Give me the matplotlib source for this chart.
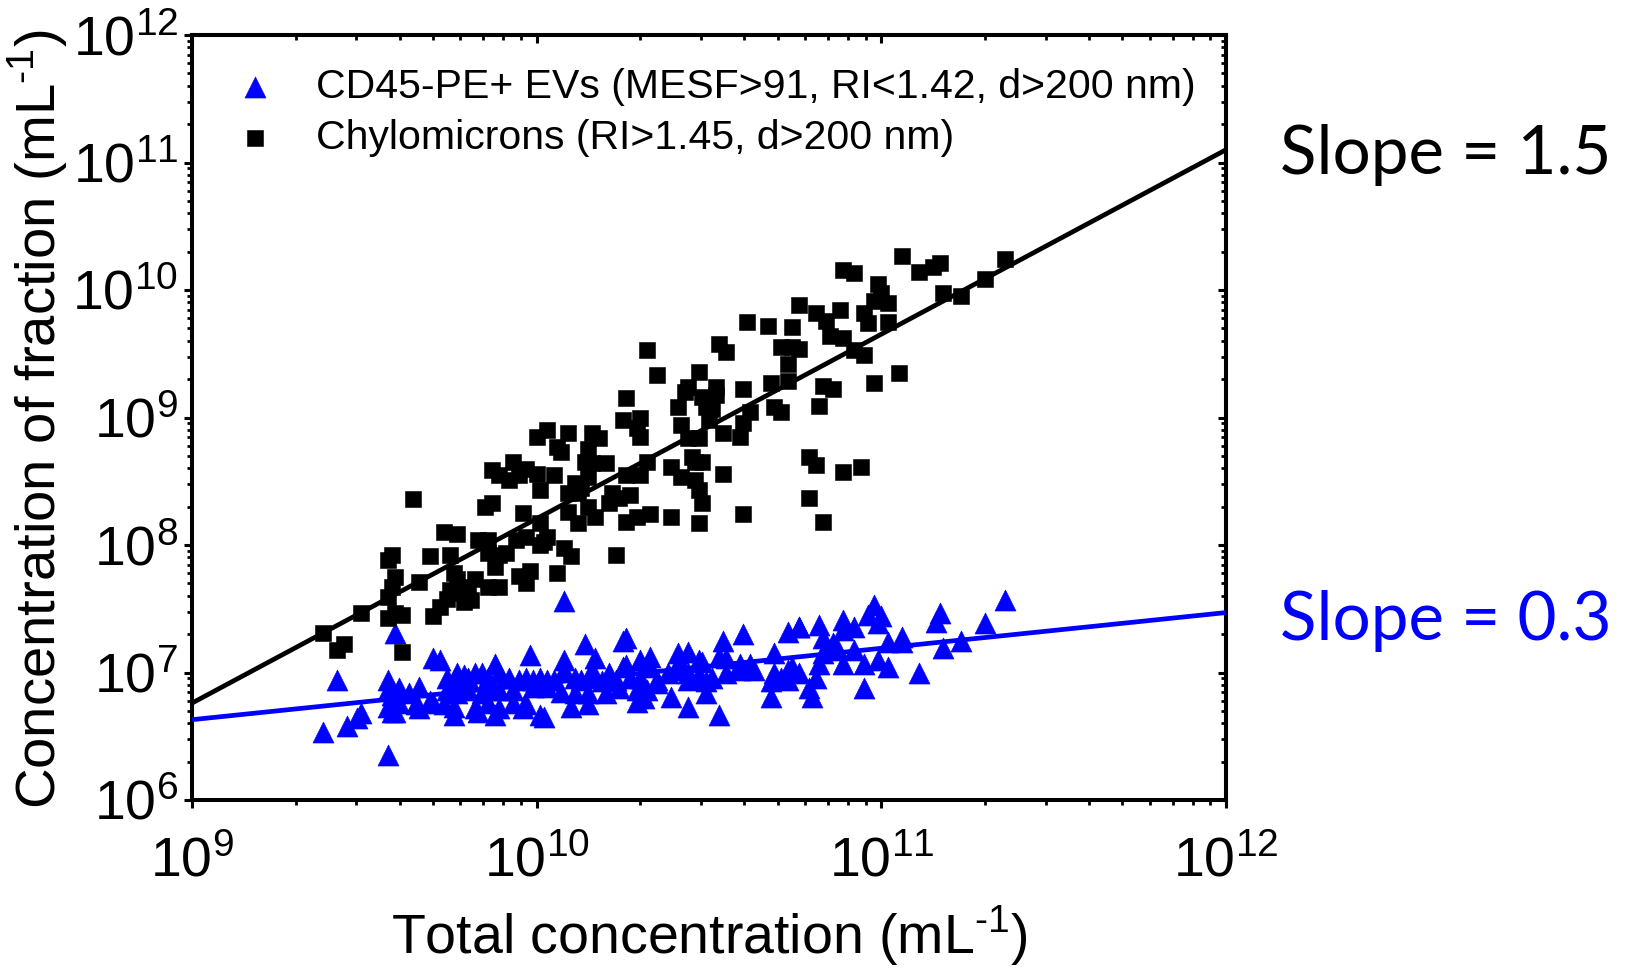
import numpy as np
import matplotlib
matplotlib.use('Agg')
import matplotlib.pyplot as plt
from matplotlib.ticker import LogLocator, NullFormatter

# ---------------- data (log10 of concentration, mL^-1) ----------------
chylo_log_total = [
    9.38, 9.44, 9.42, 9.49, 9.58, 9.57, 9.59, 9.58, 9.57, 9.59,
    9.61, 9.57, 9.61, 9.64, 9.69, 9.66, 9.70, 9.72, 9.73, 9.77,
    9.75, 9.76, 9.77, 9.75, 9.78, 9.80, 9.82, 9.81, 9.79, 9.74,
    9.83, 9.86, 9.86, 9.89, 9.91, 9.88, 9.86, 9.89, 9.85, 9.87,
    9.87, 9.89, 9.93, 9.92, 9.95, 9.97, 10.00, 10.01, 10.03, 10.00,
    10.06, 10.05, 9.96, 10.01, 9.94, 9.97, 10.02, 10.03, 10.01, 9.95,
    9.98, 9.97, 10.06, 10.09, 10.16, 10.18, 10.07, 10.15, 10.14, 10.16,
    10.20, 10.11, 10.15, 10.09, 10.12, 10.13, 10.22, 10.24, 10.27, 10.21,
    10.09, 10.15, 10.17, 10.12, 10.26, 10.29, 10.33, 10.39, 10.47, 10.60,
    10.08, 10.10, 10.23, 10.32, 10.35, 10.26, 10.25, 10.30, 10.29, 10.30,
    10.32, 10.26, 10.30, 10.39, 10.41, 10.42, 10.44, 10.47, 10.45, 10.48,
    10.46, 10.42, 10.46, 10.47, 10.48, 10.54, 10.50, 10.54, 10.59, 10.60,
    10.62, 10.69, 10.71, 10.47, 10.44, 10.43, 10.52, 10.48, 10.52, 10.49,
    10.51, 10.60, 10.68, 10.73, 10.53, 10.55, 10.61, 10.67, 10.74, 10.71,
    10.74, 10.73, 10.76, 10.89, 10.92, 11.06, 11.11, 11.15, 11.17, 11.36,
    10.99, 11.00, 10.98, 11.02, 10.95, 10.96, 10.81, 10.84, 10.88, 11.02,
    11.18, 11.23, 11.30, 10.85, 10.89, 10.76, 10.92, 10.95, 10.83, 10.86,
    10.98, 11.05, 10.82, 10.79, 10.81, 10.89, 10.94, 10.79, 10.83]
chylo_log_frac = [
    7.31, 7.22, 7.18, 7.47, 7.92, 7.88, 7.75, 7.67, 7.59, 7.47,
    7.45, 7.43, 7.16, 8.36, 7.91, 7.71, 7.44, 7.51, 8.10, 8.09,
    7.92, 7.78, 7.73, 7.65, 7.62, 7.67, 7.73, 7.57, 7.55, 7.58,
    8.04, 8.04, 7.94, 7.92, 7.94, 7.83, 7.67, 7.67, 8.30, 8.33,
    8.59, 8.55, 8.65, 8.51, 8.55, 8.60, 8.56, 8.43, 8.90, 8.85,
    8.77, 8.55, 8.25, 8.17, 8.04, 8.06, 8.02, 8.06, 8.00, 7.76,
    7.80, 7.70, 7.78, 8.88, 8.88, 8.84, 8.73, 8.75, 8.65, 8.64,
    8.64, 8.49, 8.53, 8.41, 8.41, 8.45, 8.41, 8.37, 8.39, 8.33,
    8.26, 8.30, 8.22, 8.17, 8.18, 8.22, 8.24, 8.22, 8.17, 8.24,
    7.98, 7.91, 7.92, 9.53, 9.33, 9.15, 8.98, 9.00, 8.92, 8.85,
    8.65, 8.55, 8.55, 8.61, 9.08, 8.94, 8.84, 8.84, 8.69, 8.65,
    8.65, 8.53, 8.51, 8.43, 8.33, 8.56, 8.98, 8.88, 8.85, 8.96,
    9.04, 9.08, 9.04, 9.36, 9.24, 9.20, 9.24, 9.16, 9.18, 9.08,
    9.07, 9.22, 9.27, 9.29, 9.58, 9.51, 9.75, 9.72, 9.71, 9.55,
    9.55, 9.42, 9.88, 10.16, 10.13, 10.27, 10.14, 10.18, 10.21, 10.24,
    10.05, 9.98, 9.91, 9.90, 9.82, 9.74, 9.82, 9.76, 9.84, 9.75,
    9.98, 9.95, 10.09, 9.64, 9.62, 9.54, 9.53, 9.49, 9.25, 9.22,
    9.27, 9.35, 9.09, 8.69, 8.63, 8.57, 8.61, 8.37, 8.18]

ev_log_total = [
    9.38, 9.42, 9.45, 9.49, 9.48, 9.57, 9.59, 9.57, 9.57, 9.58,
    9.60, 9.57, 9.58, 9.59, 9.60, 9.63, 9.66, 9.65, 9.66, 9.70,
    9.72, 9.69, 9.70, 9.74, 9.76, 9.77, 9.79, 9.80, 9.82, 9.84,
    9.86, 9.88, 9.89, 9.92, 9.95, 9.98, 9.97, 9.99, 10.01, 10.03,
    10.05, 9.74, 9.77, 9.80, 9.84, 9.86, 9.89, 9.93, 9.99, 10.03,
    9.73, 9.76, 9.82, 9.86, 9.89, 9.93, 9.97, 9.76, 9.83, 9.88,
    9.96, 10.01, 10.08, 10.25, 10.26, 10.14, 10.54, 10.60, 10.73, 10.76,
    10.08, 10.08, 10.17, 10.16, 10.21, 10.25, 10.26, 10.30, 10.33, 10.33,
    10.41, 10.44, 10.47, 10.48, 10.42, 10.53, 10.55, 10.59, 10.62, 10.69,
    10.11, 10.13, 10.16, 10.19, 10.23, 10.27, 10.30, 10.35, 10.38, 10.40,
    10.44, 10.47, 10.51, 10.55, 10.59, 10.63, 10.69, 10.73, 10.74, 10.07,
    10.11, 10.15, 10.20, 10.24, 10.29, 10.32, 10.35, 10.44, 10.47, 10.49,
    10.68, 10.71, 10.73, 10.10, 10.15, 10.29, 10.31, 10.39, 10.44, 10.49,
    10.68, 10.53, 10.02, 11.36, 10.98, 11.17, 11.16, 11.30, 10.96, 11.00,
    10.99, 10.89, 10.92, 10.89, 10.76, 10.82, 10.83, 10.86, 10.87, 10.85,
    10.83, 11.02, 11.06, 11.06, 11.23, 11.18, 10.92, 10.99, 10.95, 10.89,
    10.82, 11.02, 11.11, 10.76, 10.81, 10.79, 10.80, 10.95]
ev_log_frac = [
    6.53, 6.94, 6.58, 6.68, 6.64, 6.35, 7.31, 6.94, 6.86, 6.82,
    6.88, 6.73, 6.69, 6.69, 6.76, 6.84, 6.89, 6.75, 6.72, 7.11,
    7.10, 6.78, 6.76, 6.96, 6.94, 7.00, 6.98, 6.96, 7.00, 7.00,
    6.96, 7.07, 7.00, 6.96, 6.94, 7.14, 6.96, 6.94, 6.96, 6.94,
    6.94, 6.86, 6.84, 6.86, 6.84, 6.86, 6.86, 6.86, 6.89, 6.89,
    6.75, 6.73, 6.72, 6.76, 6.72, 6.76, 6.75, 6.67, 6.69, 6.67,
    6.72, 6.67, 7.56, 7.25, 7.27, 7.22, 7.25, 7.30, 7.32, 7.36,
    7.10, 7.02, 7.11, 7.02, 7.00, 7.04, 7.06, 7.10, 7.12, 7.04,
    7.15, 7.16, 7.10, 7.08, 7.07, 7.12, 7.11, 7.07, 7.07, 7.15,
    6.96, 6.94, 6.96, 6.93, 6.94, 6.96, 6.96, 6.94, 7.00, 7.02,
    7.00, 6.98, 6.96, 7.00, 7.02, 7.02, 7.00, 7.02, 7.04, 6.85,
    6.84, 6.84, 6.84, 6.88, 6.86, 6.86, 6.92, 6.94, 6.96, 6.93,
    6.93, 6.96, 6.94, 6.73, 6.75, 6.77, 6.80, 6.81, 6.73, 6.84,
    6.81, 6.67, 6.65, 7.57, 7.53, 7.47, 7.40, 7.39, 7.45, 7.44,
    7.39, 7.41, 7.36, 7.33, 7.36, 7.37, 7.27, 7.23, 7.19, 7.18,
    7.15, 7.24, 7.28, 7.24, 7.25, 7.19, 7.18, 7.10, 7.07, 7.07,
    7.07, 7.04, 7.00, 7.00, 6.96, 6.88, 6.81, 6.88]

# power-law fit lines (log10 values at the x-range ends)
fit_log_x = [9.0, 12.0]
chylo_fit_log_y = [6.76, 11.10]
ev_fit_log_y = [6.63, 7.47]

ev_label = 'CD45-PE+ EVs (MESF>91, RI<1.42, d>200 nm)'
chylo_label = 'Chylomicrons (RI>1.45, d>200 nm)'
slope_texts = ['Slope = 1.5', 'Slope = 0.3']

BLUE = '#0000FF'
plt.rcParams['font.family'] = ['Liberation Sans', 'DejaVu Sans']

fig = plt.figure(figsize=(16.25, 9.68), dpi=100)
ax = fig.add_axes([192 / 1625, 1 - 800 / 968, 1034 / 1625, 765 / 968])
ax.set_xscale('log')
ax.set_yscale('log')

ax.scatter(10 ** np.array(ev_log_total), 10 ** np.array(ev_log_frac), marker='^',
           s=230, color=BLUE, edgecolors=BLUE, linewidths=0.4, label=ev_label, zorder=3)
ax.scatter(10 ** np.array(chylo_log_total), 10 ** np.array(chylo_log_frac), marker='s',
           s=140, color='black', edgecolors='black', linewidths=0.4, label=chylo_label, zorder=3)
ax.plot(10 ** np.array(fit_log_x), 10 ** np.array(chylo_fit_log_y), color='black', lw=3.4, zorder=4)
ax.plot(10 ** np.array(fit_log_x), 10 ** np.array(ev_fit_log_y), color=BLUE, lw=3.4, zorder=4)

ax.set_xlim(1e9, 1e12)
ax.set_ylim(1e6, 1e12)

for sp in ax.spines.values():
    sp.set_linewidth(2.9)

def setup_locators(axis):
    axis.set_major_locator(LogLocator(base=10, numticks=100))
    axis.set_minor_locator(LogLocator(base=10, subs=np.arange(2, 10), numticks=100))
    axis.set_minor_formatter(NullFormatter())

setup_locators(ax.xaxis)
setup_locators(ax.yaxis)
ax.tick_params(which='major', direction='out', length=6, width=2.2, labelsize=40)
ax.tick_params(which='minor', direction='out', length=3.6, width=2.0)
ax.tick_params(axis='x', which='major', pad=20)
ax.tick_params(axis='y', which='major', pad=4)

secx = ax.secondary_xaxis('top')
secy = ax.secondary_yaxis('right')
for sec, axis in ((secx, secx.xaxis), (secy, secy.yaxis)):
    setup_locators(axis)
    axis.set_major_formatter(NullFormatter())
    sec.tick_params(which='major', direction='in', length=6, width=2.2)
    sec.tick_params(which='minor', direction='in', length=3.6, width=2.0)
    for sp in sec.spines.values():
        sp.set_linewidth(2.9)

ax.set_xlabel('Total concentration (mL$^{\\mathdefault{\u20101}}$)', fontsize=40)
ax.set_ylabel('Concentration of fraction (mL$^{\\mathdefault{\u20101}}$)', fontsize=40.5)
ax.xaxis.set_label_coords(0.5, -0.135)
ax.yaxis.set_label_coords(-0.118, 0.498)

leg = ax.legend(loc='upper left', bbox_to_anchor=(0.025, 0.978), frameon=False,
                prop={'family': 'Liberation Sans', 'size': 29.5},
                handlelength=1.0, handletextpad=1.0, labelspacing=0.3,
                borderaxespad=0, scatterpoints=1)

fig.text(1280 / 1625, 1 - 174 / 968, slope_texts[0], color='black', fontsize=48.5,
         family=['Lato', 'DejaVu Sans'], ha='left', va='baseline')
fig.text(1280 / 1625, 1 - 640 / 968, slope_texts[1], color=BLUE, fontsize=48.5,
         family=['Lato', 'DejaVu Sans'], ha='left', va='baseline')

fig.savefig('out.png', dpi=100)
